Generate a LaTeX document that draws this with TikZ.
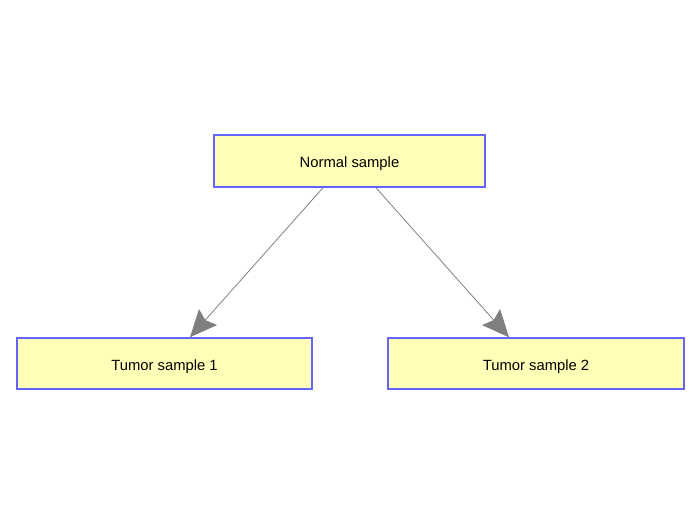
\documentclass[tikz,border=0pt]{standalone}
\usepackage{fontspec}
\setmainfont{Liberation Sans}
\usetikzlibrary{arrows.meta}
\definecolor{boxfill}{HTML}{FFFFB8}
\definecolor{boxdraw}{HTML}{6464FF}
\definecolor{arrowc}{HTML}{7F7F7F}
\begin{document}
\begin{tikzpicture}[x=1pt,y=-1pt,
  samplebox/.style={draw=boxdraw,fill=boxfill,line width=1.5pt,inner sep=0pt,text height=13.6pt,text depth=0pt,font=\fontsize{14.8}{16}\selectfont},
  link/.style={draw=arrowc,line width=0.8pt,-{Stealth[length=27pt,width=24pt,inset=4pt]}}]
\useasboundingbox (0,0) rectangle (700,525);
\node[samplebox,minimum width=271pt,minimum height=52pt] (n) at (349.5,161) {Normal sample};
\node[samplebox,minimum width=295pt,minimum height=51pt] (t1) at (164.5,363.5) {Tumor sample 1};
\node[samplebox,minimum width=296pt,minimum height=51pt] (t2) at (536,363.5) {Tumor sample 2};
\draw[link] (n.south -| 323,0) -- (t1.north -| 190,0);
\draw[link] (n.south -| 376,0) -- (t2.north -| 509,0);
\end{tikzpicture}
\end{document}
